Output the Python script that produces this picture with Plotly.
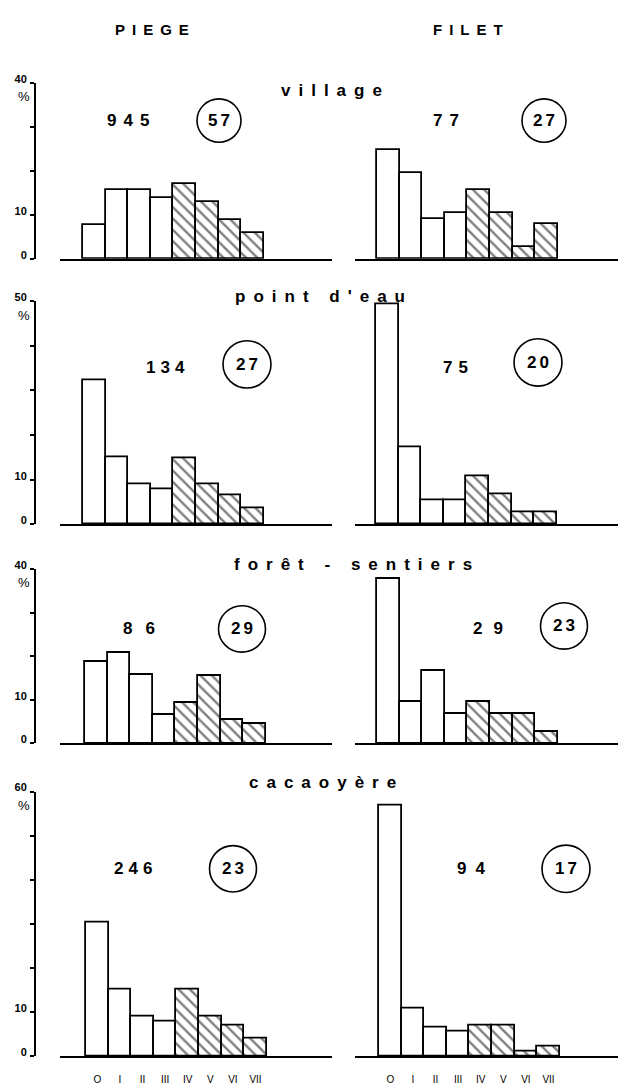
import plotly.graph_objects as go

W, H = 620, 1085

# ---------------- data ----------------
categories = ["O", "I", "II", "III", "IV", "V", "VI", "VII"]

habitats = ["village", "point d'eau", "forêt - sentiers", "cacaoyère"]
piege_n = [945, 134, 86, 246]
piege_circled = [57, 27, 29, 23]
filet_n = [77, 75, 29, 94]
filet_circled = [27, 20, 23, 17]

piege_village = [7.7, 15.6, 15.6, 13.9, 16.9, 13.0, 8.9, 5.9]
filet_village = [24.7, 19.5, 9.1, 10.4, 15.6, 10.4, 2.6, 7.8]
piege_point_eau = [32.2, 15.0, 9.0, 7.9, 14.9, 9.0, 6.6, 3.7]
filet_point_eau = [49.3, 17.3, 5.3, 5.3, 10.7, 6.7, 2.7, 2.7]
piege_foret = [18.6, 20.8, 15.7, 6.5, 9.4, 15.5, 5.4, 4.5]
filet_foret = [37.6, 9.6, 16.7, 6.7, 9.6, 6.7, 6.7, 2.6]
piege_cacao = [30.3, 15.2, 9.1, 7.8, 15.1, 9.1, 6.9, 4.1]
filet_cacao = [56.9, 10.8, 6.5, 5.6, 6.9, 6.9, 1.1, 2.2]

y_max = [40, 50, 40, 60]
column_titles = ["PIEGE", "FILET"]

piege_rows = [piege_village, piege_point_eau, piege_foret, piege_cacao]
filet_rows = [filet_village, filet_point_eau, filet_foret, filet_cacao]

# ---------------- layout geometry (pixels) ----------------
zero_px = [252, 521, 743, 1060]
ppu = [4.45, 4.52, 4.42, 4.47]          # pixels per % unit
bar_w = 22.6
left_start = [83, 83, 85, 86]
right_start = [377, 376, 377, 379]
left_dom = (60, 332)
right_dom = (355, 618)
yaxis_x = 35

label_y = [82, 290, 562, 783]
label_x = [331, 320, 353, 322]
num_y = [112, 362, 627, 870]
piege_num_x = [128, 165, 139, 133]
filet_num_x = [446, 455, 488, 471]
piege_circ_xy = [(219, 112, 22), (247, 359, 24), (242, 627, 23.5), (233, 870, 23.5)]
filet_circ_xy = [(544, 112, 22), (538, 357, 24), (564, 624, 23.5), (566, 870, 24)]
num_spacing_piege = [7, 5, 13, 5]
num_spacing_filet = [7, 6, 11, 9]
title_x = [152, 468]

FONT = "Liberation Sans"


def px(x):
    return x / W


def py(y):
    return 1 - y / H


hatch = ["", "", "", "", "\\", "\\", "\\", "\\"]

fig = go.Figure()
layout = dict(width=W, height=H, margin=dict(l=0, r=0, t=0, b=0),
              paper_bgcolor="white", plot_bgcolor="rgba(0,0,0,0)",
              showlegend=False, bargap=0)
annotations = []
shapes = []


def spaced(text, sp):
    return f'<span style="letter-spacing:{sp}px">{text}</span>'


def note(x, y, text, size=17, bold=True, family=FONT):
    return dict(x=px(x), y=py(y), xref="paper", yref="paper", text=text,
                showarrow=False, xanchor="center", yanchor="middle",
                font=dict(family=family, size=size, color="black",
                          weight="bold" if bold else "normal"))


for r in range(4):
    yname = "y" if r == 0 else f"y{r + 1}"
    ykey = "yaxis" if r == 0 else f"yaxis{r + 1}"
    top_px = zero_px[r] - y_max[r] * ppu[r]
    tickvals = list(range(0, y_max[r] + 1, 10))
    ticktext = [str(v) if v in (0, 10, y_max[r]) else "" for v in tickvals]
    layout[ykey] = dict(domain=[py(zero_px[r]), py(top_px)], range=[0, y_max[r]],
                        anchor="free", position=px(yaxis_x),
                        showline=True, linewidth=2, linecolor="black",
                        ticks="outside", ticklen=4, tickwidth=1.5, tickcolor="black",
                        tickvals=tickvals, ticktext=ticktext,
                        tickfont=dict(family=FONT, size=11, color="black", weight="bold"),
                        ticklabelstandoff=1, ticklabelshift=-4,
                        showgrid=False, zeroline=False, fixedrange=True)
    for side, (vals, start, dom) in enumerate([(piege_rows[r], left_start[r], left_dom),
                                               (filet_rows[r], right_start[r], right_dom)]):
        idx = 2 * r + side + 1
        xname = "x" if idx == 1 else f"x{idx}"
        xkey = "xaxis" if idx == 1 else f"xaxis{idx}"
        c0 = start + bar_w / 2
        rng = [(dom[0] - c0) / bar_w, (dom[1] - c0) / bar_w]
        layout[xkey] = dict(domain=[px(dom[0]), px(dom[1])], range=rng, anchor=yname,
                            type="category", categoryorder="array", categoryarray=categories,
                            showline=True, linewidth=2.2, linecolor="black",
                            ticks="", showgrid=False, zeroline=False, fixedrange=True,
                            showticklabels=(r == 3), ticklabelstandoff=13,
                            tickfont=dict(family=FONT, size=10, color="black"))
        fig.add_trace(go.Bar(
            x=categories, y=vals, xaxis=xname, yaxis=yname, width=1,
            marker=dict(color="white", line=dict(color="black", width=1.8),
                        pattern=dict(shape=hatch, fgcolor="black", bgcolor="white",
                                     size=8, solidity=0.3)),
            hoverinfo="x+y"))
    # % sign
    annotations.append(note(24, top_px + 14, "%", size=13, bold=False))
    # habitat label
    annotations.append(note(label_x[r] + 4, label_y[r], spaced(habitats[r], 8)))
    # counts
    annotations.append(note(piege_num_x[r] + num_spacing_piege[r] / 2, num_y[r],
                            spaced(piege_n[r], num_spacing_piege[r])))
    annotations.append(note(filet_num_x[r] + num_spacing_filet[r] / 2, num_y[r],
                            spaced(filet_n[r], num_spacing_filet[r])))
    for (cx, cy, rad), val in [(piege_circ_xy[r], piege_circled[r]),
                               (filet_circ_xy[r], filet_circled[r])]:
        shapes.append(dict(type="circle", xref="paper", yref="paper",
                           x0=px(cx - rad), x1=px(cx + rad), y0=py(cy + rad), y1=py(cy - rad),
                           line=dict(color="black", width=1.6)))
        annotations.append(note(cx + 1.5, cy, spaced(val, 3)))

# column titles
for t, cx in zip(column_titles, title_x):
    annotations.append(note(cx + 3, 20, spaced(t, 7), size=15))

layout["annotations"] = annotations
layout["shapes"] = shapes
fig.update_layout(**layout)
fig.write_html("out.html")
